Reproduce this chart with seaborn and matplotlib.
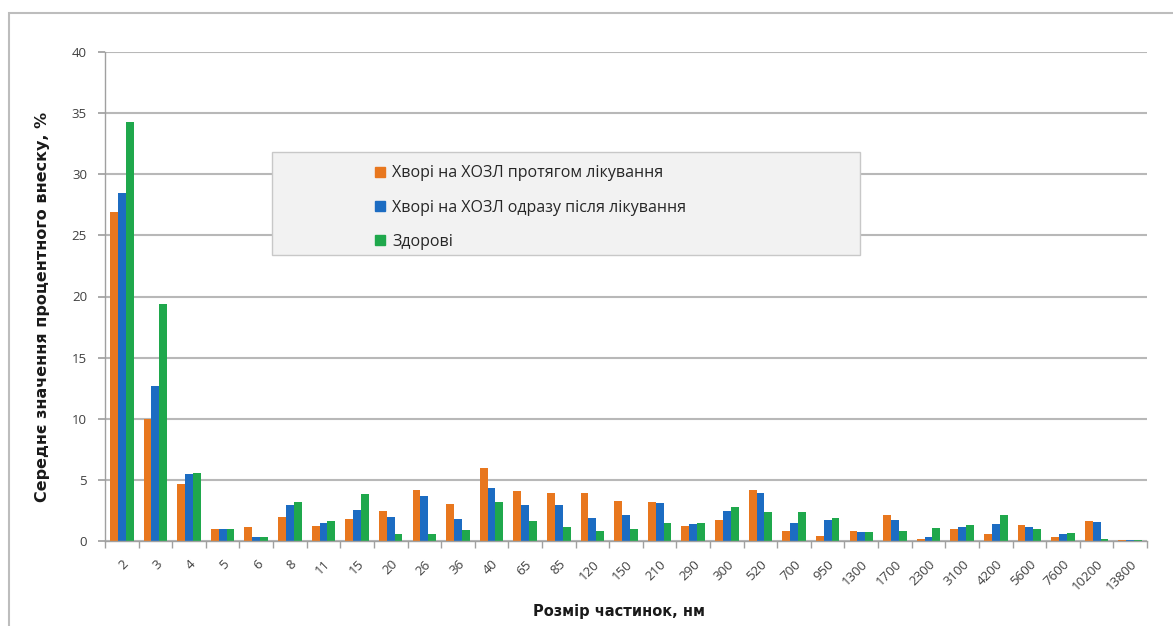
import matplotlib
matplotlib.use("Agg")
import matplotlib.pyplot as plt
from matplotlib.patches import Rectangle
from matplotlib.lines import Line2D
import seaborn as sns
import pandas as pd
import numpy as np

sizes = ["2", "3", "4", "5", "6", "8", "11", "15", "20", "26", "36", "40", "65", "85",
         "120", "150", "210", "290", "300", "520", "700", "950", "1300", "1700", "2300",
         "3100", "4200", "5600", "7600", "10200", "13800"]
during = [26.9, 10.0, 4.65, 0.96, 1.13, 2.0, 1.24, 1.82, 2.42, 4.2, 3.05, 5.95, 4.13, 3.94,
          3.94, 3.28, 3.2, 1.24, 1.74, 4.2, 0.85, 0.41, 0.85, 2.1, 0.14, 0.96, 0.55, 1.27,
          0.3, 1.65, 0.08]
after = [28.5, 12.7, 5.45, 0.96, 0.33, 2.95, 1.46, 2.56, 2.0, 3.7, 1.82, 4.35, 2.92, 2.92,
         1.9, 2.15, 3.1, 1.38, 2.42, 3.94, 1.46, 1.74, 0.77, 1.74, 0.36, 1.18, 1.38, 1.18,
         0.55, 1.54, 0.1]
healthy = [34.3, 19.4, 5.57, 1.0, 0.33, 3.2, 1.6, 3.86, 0.55, 0.55, 0.9, 3.2, 1.65, 1.18,
           0.85, 1.0, 1.5, 1.46, 2.75, 2.37, 2.37, 1.9, 0.77, 0.85, 1.05, 1.27, 2.12, 0.96,
           0.63, 0.17, 0.1]
series_names = ["Хворі на ХОЗЛ протягом лікування",
                "Хворі на ХОЗЛ одразу після лікування",
                "Здорові"]
colors = ["#E8771E", "#1C6CC2", "#1FA84C"]
y_ticks = [0, 5, 10, 15, 20, 25, 30, 35, 40]

rows = []
for name, vals in zip(series_names, [during, after, healthy]):
    for s, v in zip(sizes, vals):
        rows.append({"size": s, "value": v, "group": name})
df = pd.DataFrame(rows)

sns.set_theme(style="white")
plt.rcParams['font.family'] = ['Open Sans', 'DejaVu Sans']

W, H = 1173, 626
fig = plt.figure(figsize=(W / 100, H / 100), dpi=100)
ax = fig.add_axes([105 / W, 1 - 541 / H, (1147 - 105) / W, (541 - 52) / H])

sns.barplot(data=df, x="size", y="value", hue="group", order=sizes,
            hue_order=series_names, palette=colors, width=0.7, saturation=1,
            legend=False, ax=ax, errorbar=None, linewidth=0)

ax.set_ylim(0, 40)
ax.set_xlim(-0.5, len(sizes) - 0.5)
ax.set_yticks(y_ticks)
ax.set_yticklabels([str(t) for t in y_ticks], fontsize=9.5, color="#404040")
ax.yaxis.grid(True, color="#B8B8B8", linewidth=1.5)
ax.set_axisbelow(True)
for s in ["top", "right"]:
    ax.spines[s].set_visible(False)
for s in ["left", "bottom"]:
    ax.spines[s].set_visible(True)
    ax.spines[s].set_color("#A0A0A0")
    ax.spines[s].set_linewidth(1.0)

ax.tick_params(axis="y", which="major", length=5, color="#A0A0A0", direction="out", left=True, pad=8)
ax.set_xticks(np.arange(len(sizes)))
ax.set_xticklabels(sizes, rotation=45, ha="right", rotation_mode="anchor",
                   fontsize=9.5, color="#404040")
ax.tick_params(axis="x", which="major", length=0, pad=12)
ax.set_xticks(np.arange(len(sizes) + 1) - 0.5, minor=True)
ax.tick_params(axis="x", which="minor", length=5, color="#A0A0A0", direction="out", bottom=True)

ax.set_xlabel("Розмір частинок, нм", fontsize=10.5, fontweight="bold", color="#1a1a1a",
              family=["DejaVu Sans"])
ax.set_ylabel("Середнє значення процентного внеску, %", fontsize=11.5, fontweight="bold",
              color="#1a1a1a", family=["DejaVu Sans"])
ax.xaxis.set_label_coords((619 - 105) / (1147 - 105), -(604 - 541) / (541 - 52))
ax.yaxis.set_label_coords(-(105 - 50) / (1147 - 105), (541 - 307) / (541 - 52))

# outer chart frame
fig.patches.append(Rectangle((9 / W, -0.1), 1.2, 1 - 13 / H + 0.1, transform=fig.transFigure,
                             fill=False, edgecolor="#BDBDBD", linewidth=1.5))

# legend box
fig.patches.append(Rectangle((272 / W, 1 - 255 / H), (860 - 272) / W, (255 - 152) / H,
                             transform=fig.transFigure, facecolor="#F2F2F2",
                             edgecolor="#C8C8C8", linewidth=1.0, zorder=5))
handles = [Line2D([], [], marker="s", linestyle="none", markersize=7,
                  markerfacecolor=c, markeredgecolor=c) for c in colors]
leg = fig.legend(handles, series_names, loc="upper left",
                 bbox_to_anchor=(362 / W, 1 - 154 / H), frameon=False, fontsize=11.5,
                 handlelength=0.8, handletextpad=0.4, labelspacing=1.15, borderpad=0.2)
leg.set_zorder(6)
for t in leg.get_texts():
    t.set_color("#262626")

fig.savefig("out.png", dpi=100)
